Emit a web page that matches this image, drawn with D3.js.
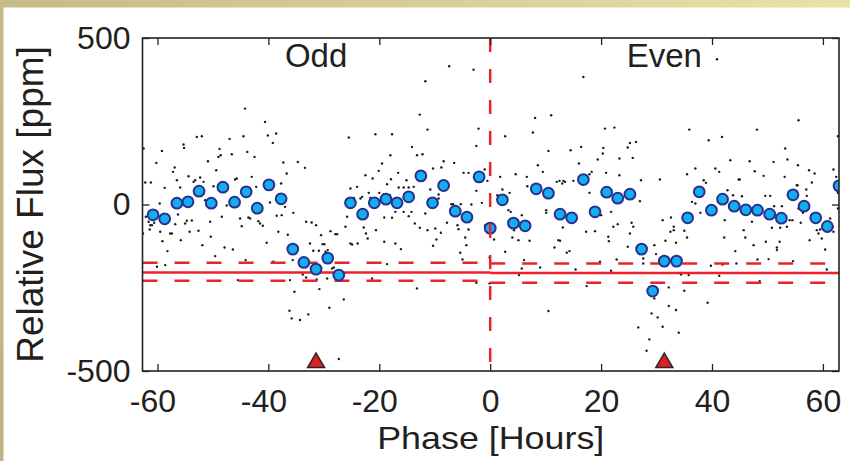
<!DOCTYPE html>
<html><head><meta charset="utf-8">
<script src="https://cdn.jsdelivr.net/npm/d3@7"></script>
<style>
body{margin:0;background:#fff}
svg{display:block}
text{font-family:"Liberation Sans",Arial,Helvetica,sans-serif;fill:#231f20}
</style>
</head><body><svg id="c" width="850" height="461"></svg>
<script>
// ---------- data ----------
const xTicks = [-60, -40, -20, 0, 20, 40, 60];
const yTicks = [-500, 0, 500];
const halves = ["Odd", "Even"];
const transitPhase = [-31.4, 31.4];
const depth = [-204, -206];
const depthUpper = [-175, -177];
const depthLower = [-229, -235];

const binPhase = [-60.8,-58.7,-56.5,-54.5,-52.5,-50.3,-48.2,-46.1,-44.0,-42.0,-39.9,-37.7,-35.6,-33.6,-31.4,-29.3,-27.3,-25.2,-23.0,-20.9,
  -18.8,-16.8,-14.7,-12.5,-10.4,-8.4,-6.3,-4.2,-2.0,0.0,2.2,4.2,6.3,8.3,10.5,12.6,14.7,16.8,18.9,21.0,
  23.0,25.2,27.3,29.3,31.4,33.6,35.6,37.7,39.9,41.9,44.0,46.1,48.2,50.4,52.5,54.6,56.6,58.7,60.8,62.9];
const binFlux = [-31,-43,4,8,40,4,52,7,38,-11,59,17,-134,-174,-194,-161,-212,5,-29,5,
  16,5,23,86,5,57,-20,-38,83,-71,14,-56,-64,47,34,-29,-40,75,-22,37,
  19,31,-134,-260,-170,-170,-40,38,-17,16,-5,-16,-17,-29,-41,29,-5,-40,-66,56];

const rawPoints = [
[-62.5,168],[-62.2,66],[-61.2,66],[-62.6,-87],[-62.1,-37],[-61.6,-52],[-61.4,-75],[-61.3,-62],[-61.0,-62],[-60.6,-55],
[-60.2,125],[-60.1,-187],[-59.6,3],[-59.5,-82],[-59.2,161],[-59.1,-110],[-58.7,50],[-58.6,-182],[-58.2,-140],[-57.7,-87],
[-57.4,-87],[-57.2,98],[-56.9,111],[-56.8,-59],[-56.5,73],[-56.3,-30],[-55.9,51],[-55.8,-107],[-55.3,180],[-55.2,170],
[-55.0,-57],[-54.7,-49],[-54.4,85],[-54.2,-82],[-54.1,13],[-53.8,-48],[-53.5,68],[-53.2,73],[-52.9,203],[-52.6,-79],
[-52.3,81],[-52.0,205],[-51.9,-122],[-51.7,68],[-51.4,13],[-50.9,130],[-50.5,-52],[-50.4,-97],[-49.9,55],[-49.6,-155],
[-49.4,103],[-49.0,143],[-48.8,167],[-48.6,148],[-48.4,-37],[-47.9,-129],[-47.5,-3],[-47.0,197],[-46.6,151],[-46.4,-135],
[-46.0,75],[-45.7,78],[-45.5,-227],[-45.1,-42],[-44.8,-65],[-44.5,205],[-44.2,288],[-44.1,-167],[-43.8,158],[-43.6,-39],
[-43.3,-42],[-43.0,83],[-42.5,143],[-42.2,53],[-41.8,-50],[-41.5,-57],[-41.0,-64],[-40.6,248],[-40.3,-115],[-40.1,207],
[-39.7,6],[-39.2,185],[-39.1,-172],[-38.6,213],[-38.5,-34],[-38.2,-82],[-37.7,63],[-37.6,-32],[-37.3,126],[-37.0,-7],
[-36.7,93],[-36.5,-91],[-36.2,-319],[-36.1,-227],[-35.8,-342],[-35.6,-167],[-35.5,-25],[-35.3,-262],[-34.7,128],[-34.3,-347],
[-33.8,-210],[-33.4,110],[-33.2,-219],[-33.2,-52],[-32.8,-330],[-32.5,-117],[-32.2,-54],[-31.9,-139],[-31.4,-62],[-31.3,-225],
[-30.9,-139],[-30.8,-254],[-30.5,-92],[-30.2,-119],[-29.9,-119],[-29.7,-142],[-29.4,-222],[-29.3,-137],[-29.0,-310],[-28.8,-80],
[-28.5,-192],[-28.2,-189],[-27.9,-89],[-27.6,-89],[-27.3,-464],[-27.0,-219],[-26.4,-285],[-26.1,-67],[-25.8,-37],[-25.5,201],
[-25.2,-117],[-24.9,-120],[-25.2,48],[-24.6,20],[-24.0,53],[-23.9,-117],[-23.4,18],[-23.1,23],[-22.8,-69],[-22.5,88],
[-22.4,-87],[-22.1,-102],[-21.9,35],[-21.6,20],[-21.3,-222],[-21.2,78],[-20.7,211],[-20.6,-77],[-20.1,101],[-20.0,35],
[-17.7,211],[-19.5,123],[-18.0,148],[-18.6,61],[-17.9,76],[-16.6,95],[-15.1,73],[-14.1,173],[-13.2,148],[-12.2,151],
[-12.7,270],[-11.7,370],[-11.3,225],[-7.4,415],[-3.0,405],[-2.1,228],[-2.5,176],[-8.4,130],[-10.3,108],[-8.8,111],
[-6.5,125],[-4.8,95],[-3.9,95],[-1.0,105],[-0.5,71],[-19.2,31],[-18.1,28],[-16.5,51],[-15.6,51],[-14.7,51],
[-13.8,53],[-9.3,30],[-9.3,18],[-10.8,45],[-19.1,-39],[-17.7,-40],[-17.1,-22],[-15.6,-22],[-14.7,-35],[-14.2,-22],
[-13.6,-57],[-12.7,-70],[-11.7,-27],[-11.3,-77],[-19.1,-112],[-17.1,-117],[-16.1,-134],[-10.3,-124],[-9.7,-105],[-8.9,-85],
[-9.9,-72],[-7.8,-55],[-7.0,1],[-6.7,1],[-6.4,-5],[-5.9,-62],[-5.7,-74],[-5.3,1],[-4.5,-99],[-4.3,-122],
[-3.9,-75],[-5.4,-145],[-5.0,-165],[-3.4,0],[-2.5,41],[-1.5,5],[-0.9,-62],[-18.6,-179],[-13.2,-252],[-2.5,-235],
[-0.1,-237],[-0.1,-159],[0.7,-105],[1.3,28],[1.8,83],[2.2,45],[2.7,205],[2.7,-142],[3.3,-17],[3.5,35],
[3.7,-22],[4.0,-99],[4.3,-77],[4.6,91],[5.1,-107],[5.7,-32],[6.1,-167],[5.7,-192],[5.2,-212],[6.6,83],
[6.7,55],[7.1,-109],[7.7,216],[8.1,260],[8.6,118],[9.0,-189],[9.5,98],[10.1,-17],[10.1,-25],[10.5,161],
[11.0,268],[10.5,-320],[11.6,-129],[12.0,68],[12.3,-107],[12.6,-109],[12.5,71],[13.0,63],[13.1,-69],[13.2,71],
[13.5,68],[13.8,-145],[14.3,-140],[14.5,163],[15.0,71],[15.4,-195],[16.0,123],[16.4,173],[16.2,83],[16.8,383],
[17.3,-82],[17.4,-245],[17.9,35],[17.9,91],[18.3,98],[18.9,-80],[19.4,135],[19.8,-172],[20.0,-32],[20.3,153],
[20.4,170],[20.7,228],[20.9,95],[21.3,-97],[21.4,-110],[21.8,-22],[22.2,-67],[22.4,231],[22.8,-165],[23.0,-59],
[23.3,88],[23.3,138],[21.8,-199],
[40.9,436],[55.6,253],[39.4,193],[41.8,203],[35.9,225],[48.1,225],[62.7,205],[26.3,188],[25.2,185],[24.8,171],
[27.2,73],[30.6,75],[35.5,91],[37.0,108],[40.6,108],[41.3,98],[43.3,133],[44.8,75],[46.8,130],[47.7,100],
[49.3,86],[51.1,128],[53.2,168],[53.6,135],[55.5,118],[57.5,103],[58.5,93],[58.0,66],[61.9,105],[62.4,83],
[62.7,35],[62.7,-12],[53.1,83],[55.4,58],[57.0,45],[27.0,10],[25.7,140],[25.5,-55],[25.8,-67],[25.2,-87],
[24.8,-127],[27.6,-162],[27.6,-177],[29.6,-122],[29.9,-149],[31.6,-109],[31.1,-47],[32.6,-39],[32.5,-82],[33.1,-67],
[33.1,-77],[33.5,-115],[34.4,-210],[35.0,-79],[35.5,-99],[35.8,-212],[35.0,-259],[36.4,8],[37.0,3],[37.9,-25],
[38.5,73],[38.9,65],[39.2,-295],[39.8,-184],[41.3,-214],[41.9,-180],[42.3,-47],[42.2,-99],[42.8,43],[43.8,28],
[44.2,-140],[44.4,-177],[45.0,75],[45.4,25],[45.7,-77],[46.0,-99],[47.2,-52],[47.5,-122],[48.2,-165],[48.6,-230],
[49.6,26],[49.7,-112],[50.2,-164],[50.5,26],[50.8,-70],[51.2,-5],[51.7,-129],[51.7,-137],[52.2,-112],[52.3,-70],
[52.6,-5],[53.5,-67],[54.0,-47],[54.5,-47],[54.6,-170],[55.3,58],[55.6,-12],[56.0,-55],[56.4,-25],[57.1,26],
[57.6,-107],[58.9,-77],[59.2,-87],[59.5,-75],[59.8,-102],[60.4,-135],[60.7,-195],[61.3,-42],[61.8,-67],[61.9,-82],
[26.7,-369],[28.2,-439],[28.7,-405],[29.1,-327],[29.6,-282],[30.2,-339],[31.1,-367],[32.2,-305],[32.2,-249],[33.5,-317],
[34.0,-385]
];

// ---------- layout ----------
const W = 850, H = 461;
const L = 142.5, R = 839, T = 38, B = 371;
const svg = d3.select("#c");

// beige frame strips
const defs = svg.append("defs");
const gTop = defs.append("linearGradient").attr("id", "gt").attr("x1", 0).attr("x2", 1).attr("y1", 0).attr("y2", 0);
gTop.append("stop").attr("offset", 0).attr("stop-color", "#c5ba88");
gTop.append("stop").attr("offset", 1).attr("stop-color", "#e8e2a8");
const gLeft = defs.append("linearGradient").attr("id", "gl").attr("x1", 0).attr("x2", 0).attr("y1", 0).attr("y2", 1);
gLeft.append("stop").attr("offset", 0).attr("stop-color", "#c5ba88");
gLeft.append("stop").attr("offset", 1).attr("stop-color", "#bfb383");
svg.append("rect").attr("x", 0).attr("y", 0).attr("width", W).attr("height", 7.5).attr("fill", "url(#gt)");
svg.append("rect").attr("x", 0).attr("y", 0).attr("width", 3.5).attr("height", H).attr("fill", "url(#gl)");

const x = d3.scaleLinear().domain([-62.7, 62.9]).range([L, R]);
const y = d3.scaleLinear().domain([-500, 500]).range([B, T]);

defs.append("clipPath").attr("id", "plotclip").append("rect")
  .attr("x", L).attr("y", T).attr("width", R - L).attr("height", B - T);

const plot = svg.append("g").attr("clip-path", "url(#plotclip)");

// raw points
plot.append("g").selectAll("circle").data(rawPoints).join("circle")
  .attr("cx", d => x(d[0])).attr("cy", d => y(d[1])).attr("r", 1.2).attr("fill", "#1a1a1a");

// depth lines
const red = "#e8232b";
const spans = [[x.domain()[0], 0], [0, x.domain()[1]]];
spans.forEach((s, i) => {
  const g = plot.append("g");
  g.append("line").attr("x1", x(s[0])).attr("x2", x(s[1])).attr("y1", y(depth[i])).attr("y2", y(depth[i]))
    .attr("stroke", red).attr("stroke-width", 2.5);
  [depthUpper[i], depthLower[i]].forEach(v => {
    g.append("line").attr("x1", x(s[0])).attr("x2", x(s[1])).attr("y1", y(v)).attr("y2", y(v))
      .attr("stroke", red).attr("stroke-width", 2.5).attr("stroke-dasharray", "15,17");
  });
});

// binned points
plot.append("g").selectAll("circle").data(binPhase.map((p, i) => [p, binFlux[i]])).join("circle")
  .attr("cx", d => x(d[0])).attr("cy", d => y(d[1])).attr("r", 5.4)
  .attr("fill", "#12aef0").attr("stroke", "#2b2f8e").attr("stroke-width", 2);

// vertical separator
plot.append("line").attr("x1", x(0)).attr("x2", x(0)).attr("y1", T).attr("y2", B)
  .attr("stroke", red).attr("stroke-width", 2.5).attr("stroke-dasharray", "14,17");

// transit markers
plot.append("g").selectAll("path").data(transitPhase).join("path")
  .attr("d", d => { const cx = x(d), cy = y(-470); return `M${cx},${cy-8}L${cx+8.5},${cy+6.5}L${cx-8.5},${cy+6.5}Z`; })
  .attr("fill", "#e01e25").attr("stroke", "#2a2a2a").attr("stroke-width", 1.5).attr("stroke-linejoin", "miter");

// half labels
svg.append("g").selectAll("text").data(halves).join("text")
  .attr("x", (d, i) => x(transitPhase[i])).attr("y", 67)
  .attr("text-anchor", "middle").attr("font-size", 33).text(d => d);

// axes (ticks inward)
const axCol = "#222";
const fmt = d => String(d);
function styleAxis(g) {
  g.select(".domain").remove();
  g.selectAll(".tick line").attr("stroke", axCol).attr("stroke-width", 1.3);
}
svg.append("g").attr("transform", `translate(0,${B})`)
  .call(d3.axisBottom(x).tickValues(xTicks).tickSize(-7).tickPadding(18).tickFormat(fmt))
  .call(styleAxis)
  .call(g => g.selectAll("text").attr("font-size", 32).attr("fill", "#231f20").attr("font-family", null)
    .attr("dx", d => d < 0 ? -5 : 0));
svg.append("g").attr("transform", `translate(0,${T})`)
  .call(d3.axisTop(x).tickValues(xTicks).tickSize(-7).tickFormat(""))
  .call(styleAxis);
svg.append("g").attr("transform", `translate(${L},0)`)
  .call(d3.axisLeft(y).tickValues(yTicks).tickSize(-7).tickPadding(12).tickFormat(fmt))
  .call(styleAxis)
  .call(g => g.selectAll("text").attr("font-size", 32).attr("fill", "#231f20").attr("font-family", null));
svg.append("g").attr("transform", `translate(${R},0)`)
  .call(d3.axisRight(y).tickValues(yTicks).tickSize(-7).tickFormat(""))
  .call(styleAxis);

// frame
svg.append("rect").attr("x", L).attr("y", T).attr("width", R - L).attr("height", B - T)
  .attr("fill", "none").attr("stroke", axCol).attr("stroke-width", 1.6);

// axis titles
svg.append("text").attr("transform", `translate(${(L + R) / 2},449) scale(1.12,1)`)
  .attr("text-anchor", "middle").attr("font-size", 32).text("Phase [Hours]");
svg.append("text").attr("transform", `translate(43,${(T + B) / 2}) rotate(-90)`)
  .attr("text-anchor", "middle").attr("font-size", 37).text("Relative Flux [ppm]");
</script>
</body></html>
